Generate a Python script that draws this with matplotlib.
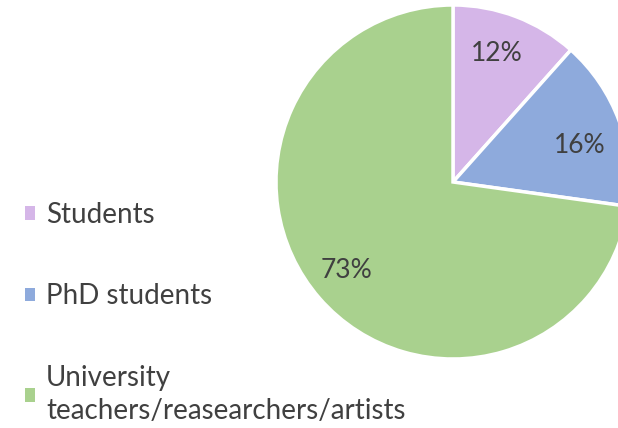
import matplotlib
matplotlib.use("Agg")
import matplotlib.pyplot as plt
from matplotlib.patches import Patch

categories = ["Students", "PhD students", "University\nteachers/reasearchers/artists"]
values = [11.6, 15.6, 72.8]
pct_labels = ["12%", "16%", "73%"]
colors = ["#D5B6E8", "#8EAADC", "#A9D18E"]
text_color = "#404040"

W, H = 618, 428
fig = plt.figure(figsize=(W / 100, H / 100), dpi=100)
ax = fig.add_axes([0, 0, 1, 1])

cx, cy, r = 453, H - 182, 177
wedges, texts = ax.pie(values, colors=colors, startangle=90, counterclock=False,
                       center=(cx, cy), radius=r,
                       wedgeprops=dict(edgecolor="white", linewidth=2.5))
label_pos = [(497, 53), (580, 145), (347, 270)]
for lab, (x, y) in zip(pct_labels, label_pos):
    ax.text(x, H - y, lab, ha="center", va="center", fontsize=19,
            color=text_color, family="Lato")

ax.set_xlim(0, W)
ax.set_ylim(0, H)
ax.set_aspect("equal")
ax.axis("off")

handles = [Patch(facecolor=c, edgecolor="none") for c in colors]
leg = ax.legend(handles, categories, loc="upper left", bbox_to_anchor=(11 / W, 1 - 188 / H),
                bbox_transform=fig.transFigure, frameon=False,
                handlelength=0.38, handleheight=0.38, handletextpad=0.38,
                labelspacing=2.0, prop=dict(family="Lato", size=20), borderpad=0)
for t in leg.get_texts():
    t.set_color(text_color)
    t.set_linespacing(1.35)

fig.savefig("out.png", dpi=100)
